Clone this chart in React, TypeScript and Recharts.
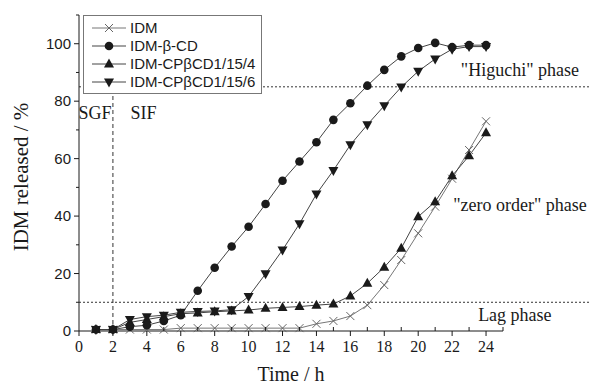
import { LineChart, Line, XAxis, YAxis, ReferenceLine, ReferenceDot } from 'recharts';

// IDM release profiles, SGF (0-2 h) then SIF
const hours = [1, 2, 3, 4, 5, 6, 7, 8, 9, 10, 11, 12, 13, 14, 15, 16, 17, 18, 19, 20, 21, 22, 23, 24];
const idm = [0.5, 0.5, 0.5, 0.5, 0.5, 1, 1, 1, 1, 1, 1, 1, 1, 2.5, 3.5, 5.2, 9, 16, 24.7, 34, 43.3, 53, 63, 73];
const betaCd = [0.5, 0.5, 1.5, 2, 3.5, 5.5, 14, 22, 29.4, 36.3, 44.2, 52.3, 59, 65.7, 73.5, 79.3, 85.4, 90.9, 95.6, 98.5, 100.3, 98.8, 99.5, 99.5];
const cp4 = [0.5, 0.5, 3, 4, 5, 6, 6.3, 6.7, 7, 7.3, 7.9, 8.2, 8.5, 9, 9.4, 12.2, 16.6, 22.2, 28.8, 39.8, 45, 54, 61, 69];
const cp6 = [0.5, 0.5, 4, 5, 5.5, 6.5, 6.8, 7, 7.4, 12, 19.9, 28.2, 37.3, 47.7, 55.9, 64.8, 71.8, 78.4, 84.9, 90.4, 94.7, 98.1, 99, 99];

const xTicks = [0, 1, 2, 3, 4, 5, 6, 7, 8, 9, 10, 11, 12, 13, 14, 15, 16, 17, 18, 19, 20, 21, 22, 23, 24, 25];
const yTicks = [0, 10, 20, 30, 40, 50, 60, 70, 80, 90, 100, 110];

const data = hours.map((h, i) => ({ h, idm: idm[i], betaCd: betaCd[i], cp4: cp4[i], cp6: cp6[i] }));

const INK = '#1a1a1a';
const SERIF = '"Liberation Serif", "Times New Roman", serif';
const SANS = '"Liberation Sans", Arial, sans-serif';

type Kind = 'x' | 'circle' | 'up' | 'down';

function marker(kind: Kind, cx: number, cy: number, key?: number) {
  switch (kind) {
    case 'x':
      return (
        <g key={key} stroke="#666" strokeWidth={1}>
          <line x1={cx - 4} y1={cy - 4} x2={cx + 4} y2={cy + 4} />
          <line x1={cx - 4} y1={cy + 4} x2={cx + 4} y2={cy - 4} />
        </g>
      );
    case 'circle':
      return <circle key={key} cx={cx} cy={cy} r={4.3} fill={INK} />;
    case 'up':
      return <polygon key={key} points={`${cx},${cy - 5.5} ${cx + 5},${cy + 3.5} ${cx - 5},${cy + 3.5}`} fill={INK} />;
    default:
      return <polygon key={key} points={`${cx},${cy + 5.5} ${cx + 5},${cy - 3.5} ${cx - 5},${cy - 3.5}`} fill={INK} />;
  }
}

const dotOf = (kind: Kind) => (p: any) =>
  p.cx == null || p.cy == null ? <g key={p.index} /> : marker(kind, p.cx, p.cy, p.index);

function XTick({ x, y, payload }: any) {
  const v = payload.value;
  const major = v % 2 === 0 && v <= 24;
  return (
    <g>
      {major
        ? <line x1={x} x2={x} y1={y} y2={y + 5} stroke={INK} />
        : <line x1={x} x2={x} y1={y} y2={y - 4} stroke={INK} />}
      {major && (
        <text x={x} y={y + 21} textAnchor="middle" fontFamily={SERIF} fontSize={16} fill={INK}>{v}</text>
      )}
    </g>
  );
}

function YTick({ x, y, payload }: any) {
  const v = payload.value;
  const major = v % 20 === 0 && v <= 100;
  return (
    <g>
      <line x1={x - (major ? 5 : 3)} x2={x} y1={y} y2={y} stroke={INK} />
      {major && (
        <text x={x - 8} y={y + 5} textAnchor="end" fontFamily={SANS} fontSize={15} fill={INK}>{v}</text>
      )}
    </g>
  );
}

const legendRows: { name: string; kind: Kind; color: string }[] = [
  { name: 'IDM', kind: 'x', color: '#777' },
  { name: 'IDM-β-CD', kind: 'circle', color: '#444' },
  { name: 'IDM-CPβCD1/15/4', kind: 'up', color: '#444' },
  { name: 'IDM-CPβCD1/15/6', kind: 'down', color: '#444' },
];

const annot = (value: string) => ({
  value, position: 'center' as const, fill: INK, fontSize: 18, fontFamily: SERIF,
});

export default function App() {
  return (
    <div style={{ position: 'absolute', left: 0, top: 0, width: 590, height: 384, background: '#fff' }}>
      <LineChart width={590} height={384} data={data} margin={{ top: 15, right: 87, bottom: 0, left: 0 }}>
        <XAxis
          dataKey="h" type="number" domain={[0, 25]} ticks={xTicks} interval={0}
          tickSize={0} tickMargin={0} tickLine={false} tick={<XTick />}
          axisLine={{ stroke: INK }} height={53} allowDataOverflow
          label={{ value: 'Time / h', position: 'insideBottom', offset: 3, fill: INK, fontSize: 20, fontFamily: SERIF }}
        />
        <YAxis
          type="number" domain={[0, 110]} ticks={yTicks} interval={0}
          tickSize={0} tickMargin={0} tickLine={false} tick={<YTick />}
          axisLine={{ stroke: INK }} width={79}
          label={{ value: 'IDM released / %', angle: -90, position: 'insideLeft', offset: 21, dy: 4, style: { textAnchor: 'middle' }, fill: INK, fontSize: 21, fontFamily: SERIF }}
        />
        <ReferenceLine segment={[{ x: 0, y: 85 }, { x: 30.2, y: 85 }]} ifOverflow="visible" stroke="#333" strokeDasharray="2 2" />
        <ReferenceLine segment={[{ x: 0, y: 10 }, { x: 30.2, y: 10 }]} ifOverflow="visible" stroke="#333" strokeDasharray="2 2" />
        <ReferenceLine x={2} stroke="#333" strokeDasharray="4 3" />
        <ReferenceDot x={0.95} y={76} r={0} fill="none" stroke="none" ifOverflow="visible" label={annot('SGF')} />
        <ReferenceDot x={3.8} y={76} r={0} fill="none" stroke="none" ifOverflow="visible" label={annot('SIF')} />
        <ReferenceDot x={26} y={91} r={0} fill="none" stroke="none" ifOverflow="visible" label={annot('"Higuchi" phase')} />
        <ReferenceDot x={26} y={44} r={0} fill="none" stroke="none" ifOverflow="visible" label={annot('"zero order" phase')} />
        <ReferenceDot x={25.7} y={5.6} r={0} fill="none" stroke="none" ifOverflow="visible" label={annot('Lag phase')} />
        <Line dataKey="idm" stroke="#777" strokeWidth={1} dot={dotOf('x')} activeDot={false} isAnimationActive={false} />
        <Line dataKey="cp4" stroke="#444" strokeWidth={1} dot={dotOf('up')} activeDot={false} isAnimationActive={false} />
        <Line dataKey="cp6" stroke="#444" strokeWidth={1} dot={dotOf('down')} activeDot={false} isAnimationActive={false} />
        <Line dataKey="betaCd" stroke="#444" strokeWidth={1} dot={dotOf('circle')} activeDot={false} isAnimationActive={false} />
      </LineChart>
      <div style={{
        position: 'absolute', left: 83, top: 15, width: 177, height: 72,
        border: '1px solid #777', background: '#fff', fontFamily: SANS, fontSize: 15, color: INK,
        paddingTop: 3, paddingBottom: 2, boxSizing: 'content-box',
      }}>
        {legendRows.map((r) => (
          <div key={r.name} style={{ display: 'flex', alignItems: 'center', height: 18 }}>
            <svg width={46} height={14} style={{ flex: 'none' }}>
              <line x1={8} x2={42} y1={7} y2={7} stroke={r.color} />
              {marker(r.kind, 25, 7)}
            </svg>
            <span style={{ whiteSpace: 'nowrap', lineHeight: '18px' }}>{r.name}</span>
          </div>
        ))}
      </div>
    </div>
  );
}
